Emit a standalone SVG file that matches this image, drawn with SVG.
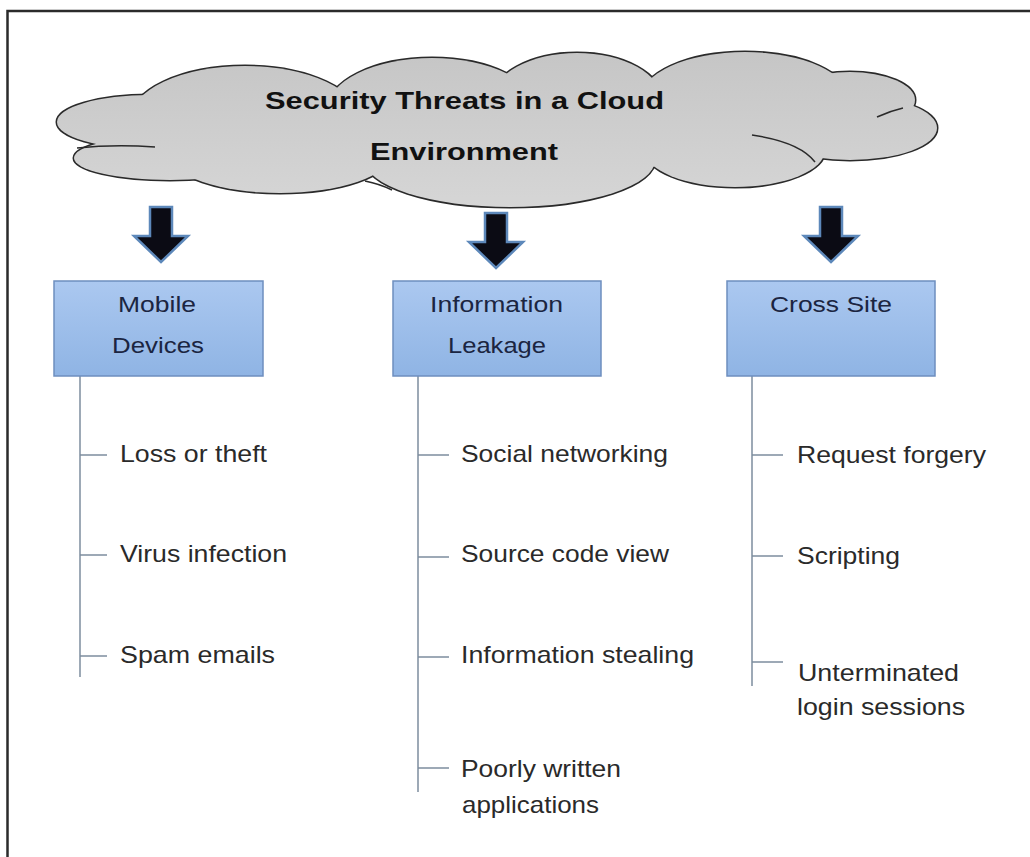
<svg xmlns="http://www.w3.org/2000/svg" width="1030" height="857" viewBox="0 0 1030 857">
  <defs>
    <linearGradient id="cloudFill" gradientUnits="userSpaceOnUse" x1="0" y1="55" x2="0" y2="208">
      <stop offset="0" stop-color="#c6c6c6"/>
      <stop offset="1" stop-color="#d6d6d6"/>
    </linearGradient>
    <linearGradient id="boxFill" x1="0" y1="0" x2="0" y2="1">
      <stop offset="0" stop-color="#abc8f0"/>
      <stop offset="1" stop-color="#8fb4e4"/>
    </linearGradient>
    <g id="arrow">
      <path d="M-11,0 H11 V29 H27 L0,55 L-27,29 H-11 Z"/>
    </g>
  </defs>
  <style>
    .frame { fill: none; stroke: #2b2b2b; stroke-width: 2.5; }
    .lobe-line { fill: none; stroke: #2a2a2a; stroke-width: 3; }
    .lobe-fill { fill: url(#cloudFill); stroke: none; }
    .inner { fill: none; stroke: #2a2a2a; stroke-width: 1.5; }
    .title { font-family: "Liberation Sans", Arial, sans-serif; font-weight: bold; font-size: 24px; fill: #111; }
    .box { fill: url(#boxFill); stroke: #6e8ebf; stroke-width: 1.5; }
    .box-text { font-family: "Liberation Sans", Arial, sans-serif; font-size: 22px; fill: #1b2541; }
    .item { font-family: "Liberation Sans", Arial, sans-serif; font-size: 24px; fill: #2a2a2a; }
    .tree { fill: none; stroke: #7d8d9e; stroke-width: 1.5; }
    .block-arrow { fill: #0b0b14; stroke: #5d88ba; stroke-width: 2.5; stroke-linejoin: miter; }
  </style>

  <rect width="1030" height="857" fill="#ffffff"/>
  <path class="frame" d="M7.5,857 V11 H1030"/>

  <!-- cloud: outlined lobes, then a fill pass on top to hide the overlaps -->
  <g id="cloud">
    <g class="lobe-line">
      <ellipse cx="150" cy="122" rx="93" ry="27"/>
      <ellipse cx="170" cy="158" rx="96" ry="22"/>
      <ellipse cx="245" cy="120" rx="115" ry="54"/>
      <ellipse cx="432" cy="110" rx="105" ry="52"/>
      <ellipse cx="577" cy="100" rx="85" ry="47"/>
      <ellipse cx="745" cy="100" rx="105" ry="48"/>
      <ellipse cx="850" cy="100" rx="65" ry="28"/>
      <ellipse cx="850" cy="128" rx="87" ry="32"/>
      <ellipse cx="735" cy="150" rx="90" ry="37"/>
      <ellipse cx="510" cy="160" rx="145" ry="47"/>
      <ellipse cx="280" cy="155" rx="110" ry="38"/>
    </g>
    <g class="lobe-fill">
      <ellipse cx="150" cy="122" rx="93" ry="27"/>
      <ellipse cx="170" cy="158" rx="96" ry="22"/>
      <ellipse cx="245" cy="120" rx="115" ry="54"/>
      <ellipse cx="432" cy="110" rx="105" ry="52"/>
      <ellipse cx="577" cy="100" rx="85" ry="47"/>
      <ellipse cx="745" cy="100" rx="105" ry="48"/>
      <ellipse cx="850" cy="100" rx="65" ry="28"/>
      <ellipse cx="850" cy="128" rx="87" ry="32"/>
      <ellipse cx="735" cy="150" rx="90" ry="37"/>
      <ellipse cx="510" cy="160" rx="145" ry="47"/>
      <ellipse cx="280" cy="155" rx="110" ry="38"/>
      <ellipse cx="500" cy="128" rx="300" ry="45"/>
    </g>
    <path class="inner" d="M77,148 Q115,144 155,147"/>
    <path class="inner" d="M752,135 Q800,142 815,162"/>
    <path class="inner" d="M877,117 Q890,111 903,108"/>
    <path class="inner" d="M365,181 Q380,184 392,190"/>
    <text class="title" x="265" y="109" textLength="399" lengthAdjust="spacingAndGlyphs">Security Threats in a Cloud</text>
    <text class="title" x="370" y="160" textLength="188" lengthAdjust="spacingAndGlyphs">Environment</text>
  </g>

  <!-- connectors: block arrows and the list trees -->
  <g id="connectors">
    <use href="#arrow" class="block-arrow" transform="translate(161,207)"/>
    <use href="#arrow" class="block-arrow" transform="translate(496,213)"/>
    <use href="#arrow" class="block-arrow" transform="translate(831,207)"/>

    <path class="tree" d="M80,376 V677 M80,455 H107 M80,555 H107 M80,656 H107"/>
    <path class="tree" d="M418,376 V792 M418,455 H449 M418,557 H449 M418,657 H449 M418,768 H449"/>
    <path class="tree" d="M752,376 V686 M752,455 H783 M752,556 H783 M752,662 H783"/>
  </g>

  <g id="mobile-devices">
    <rect class="box" x="54" y="281" width="209" height="95"/>
    <text class="box-text" x="118" y="312" textLength="78" lengthAdjust="spacingAndGlyphs">Mobile</text>
    <text class="box-text" x="112" y="353" textLength="92" lengthAdjust="spacingAndGlyphs">Devices</text>
  </g>

  <g id="information-leakage">
    <rect class="box" x="393" y="281" width="208" height="95"/>
    <text class="box-text" x="430" y="312" textLength="133" lengthAdjust="spacingAndGlyphs">Information</text>
    <text class="box-text" x="448" y="353" textLength="98" lengthAdjust="spacingAndGlyphs">Leakage</text>
  </g>

  <g id="cross-site">
    <rect class="box" x="727" y="281" width="208" height="95"/>
    <text class="box-text" x="770" y="312" textLength="122" lengthAdjust="spacingAndGlyphs">Cross Site</text>
  </g>

  <g id="mobile-items">
    <text class="item" x="120" y="462" textLength="147" lengthAdjust="spacingAndGlyphs">Loss or theft</text>
    <text class="item" x="120" y="562" textLength="167" lengthAdjust="spacingAndGlyphs">Virus infection</text>
    <text class="item" x="120" y="663" textLength="155" lengthAdjust="spacingAndGlyphs">Spam emails</text>
  </g>

  <g id="leakage-items">
    <text class="item" x="461" y="462" textLength="207" lengthAdjust="spacingAndGlyphs">Social networking</text>
    <text class="item" x="461" y="562" textLength="208" lengthAdjust="spacingAndGlyphs">Source code view</text>
    <text class="item" x="461" y="663" textLength="233" lengthAdjust="spacingAndGlyphs">Information stealing</text>
    <text class="item" x="461" y="777" textLength="160" lengthAdjust="spacingAndGlyphs">Poorly written</text>
    <text class="item" x="462" y="813" textLength="137" lengthAdjust="spacingAndGlyphs">applications</text>
  </g>

  <g id="cross-site-items">
    <text class="item" x="797" y="463" textLength="189" lengthAdjust="spacingAndGlyphs">Request forgery</text>
    <text class="item" x="797" y="564" textLength="103" lengthAdjust="spacingAndGlyphs">Scripting</text>
    <text class="item" x="798" y="681" textLength="161" lengthAdjust="spacingAndGlyphs">Unterminated</text>
    <text class="item" x="797" y="715" textLength="168" lengthAdjust="spacingAndGlyphs">login sessions</text>
  </g>
</svg>
